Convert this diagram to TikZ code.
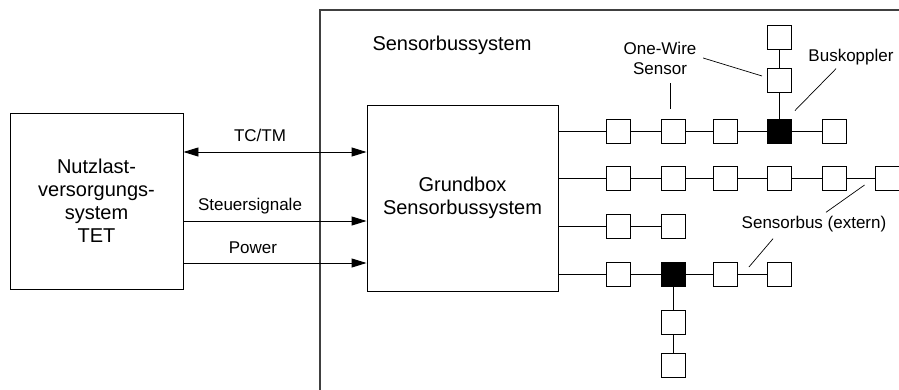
\documentclass[tikz,border=0pt]{standalone}
\usepackage{fontspec}
\setmainfont{Liberation Sans}
\usetikzlibrary{arrows.meta}

\begin{document}
\begin{tikzpicture}[x=1pt,y=-1pt,line width=0.9pt,
    >={Triangle[length=15pt,width=9pt]},
    bigbox/.style={draw,align=center,inner sep=0pt,font=\fontsize{20}{23}\selectfont},
    sbox/.style={draw,minimum size=24pt,inner sep=0pt},
    lbl/.style={align=center,font=\fontsize{17}{20}\selectfont}]
    \useasboundingbox (0,0) rectangle (899,389);
    \clip (0,0) rectangle (899,389);
    % Systemgrenze
    \draw[line width=1.2pt,black!75] (905,10) -- (320,10) -- (320,395);
    \node[bigbox,draw=none] (sbs) at (452,45) {Sensorbussystem};

    \node[bigbox,minimum width=173pt,minimum height=176pt] (nls) at (96.5,201)
        {Nutzlast-\\versorgungs-\\system\\TET};
    \node[bigbox,minimum width=191pt,minimum height=186pt] (grund) at (462.5,198)
        {Grundbox\\Sensorbussystem};

    % Schnittstellen
    \coordinate (tc) at (0,152);
    \coordinate (st) at (0,221);
    \coordinate (pw) at (0,263);
    \draw[<->] (nls.east |- tc) -- (grund.west |- tc);
    \draw[->] (nls.east |- st) -- (grund.west |- st);
    \draw[->] (nls.east |- pw) -- (grund.west |- pw);
    \node[lbl] (tctm) at (260,135) {TC/TM};
    \node[lbl] (steu) at (250,206) {Steuersignale};
    \node[lbl] (pow) at (253,248) {Power};

    % Sensorbusse
    \foreach \n/\x/\f in {1/618/white,2/673/white,3/725.5/white,4/779.5/black,5/834.5/white}
        \node[sbox,fill=\f] (a\n) at (\x,131) {};
    \foreach \n/\x in {1/618,2/673,3/725.5,4/779.5,5/834.5,6/887}
        \node[sbox] (b\n) at (\x,178) {};
    \foreach \n/\x in {1/618,2/673}
        \node[sbox] (c\n) at (\x,226) {};
    \foreach \n/\x/\f in {1/618/white,2/673/black,3/725.5/white,4/779.5/white}
        \node[sbox,fill=\f] (d\n) at (\x,274) {};
    \node[sbox] (u1) at (779.5,80) {};
    \node[sbox] (u2) at (779.5,37.5) {};
    \node[sbox] (v1) at (673,322) {};
    \node[sbox] (v2) at (673,365) {};

    \draw (grund.east |- a1) -- (a1) -- (a2) -- (a3) -- (a4) -- (a5);
    \draw (grund.east |- b1) -- (b1) -- (b2) -- (b3) -- (b4) -- (b5) -- (b6);
    \draw (grund.east |- c1) -- (c1) -- (c2);
    \draw (grund.east |- d1) -- (d1) -- (d2) -- (d3) -- (d4);
    \draw (a4) -- (u1) -- (u2);
    \draw (d2) -- (v1) -- (v2);

    % Beschriftungen
    \node[lbl] (ows) at (660,58) {One-Wire\\Sensor};
    \node[lbl] (bkl) at (851,57) {Buskoppler};
    \node[lbl] (sbe) at (814,224) {Sensorbus (extern)};
    \draw[line width=0.7pt] ([yshift=-5pt]ows.south -| 670,0) -- ([xshift=-3pt,yshift=10pt]a2.north);
    \draw[line width=0.7pt] ([xshift=3pt]ows.east) -- ([xshift=-5pt,yshift=4pt]u1.west);
    \draw[line width=0.7pt] ([xshift=-15pt]bkl.south) -- ([xshift=3pt,yshift=8pt]a4.north east);
    \draw[line width=0.7pt] ([xshift=12pt]sbe.north) -- ([xshift=-10pt,yshift=-7pt]b6.west);
    \draw[line width=0.7pt] ([xshift=-41pt,yshift=-3pt]sbe.south) -- ([xshift=11pt,yshift=7pt]d3.east);
\end{tikzpicture}
\end{document}
